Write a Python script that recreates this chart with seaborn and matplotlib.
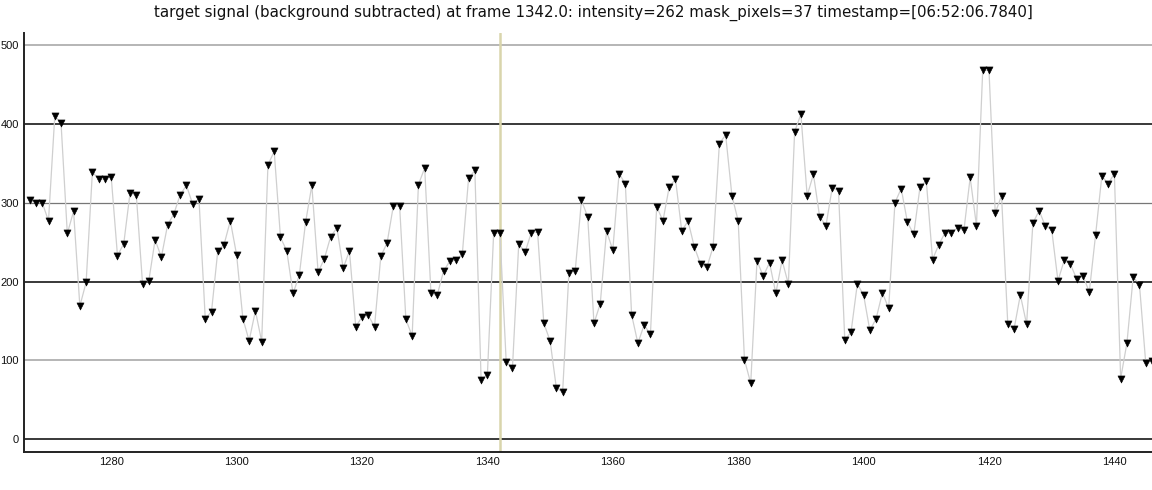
import matplotlib
matplotlib.use("Agg")
import matplotlib.pyplot as plt
import seaborn as sns
import numpy as np
import pandas as pd

# ---- data ----
first_frame = 1267
intensity = [
    303, 300, 300, 277, 410, 401, 261, 289, 169, 199,
    339, 330, 330, 333, 233, 248, 312, 310, 197, 201,
    253, 231, 272, 286, 310, 322, 298, 305, 153, 162,
    239, 247, 277, 234, 153, 125, 163, 124, 348, 365,
    256, 239, 185, 208, 275, 322, 212, 229, 257, 268,
    217, 239, 143, 155, 157, 143, 232, 249, 296, 296,
    152, 131, 323, 344, 185, 183, 213, 226, 227, 235,
    331, 341, 75, 82, 262, 262, 98, 91, 248, 237,
    262, 263, 147, 125, 65, 60, 211, 213, 303, 282,
    147, 172, 264, 240, 337, 324, 158, 122, 145, 133,
    295, 277, 320, 330, 264, 277, 244, 222, 218, 244,
    375, 386, 309, 277, 101, 71, 226, 207, 224, 185,
    227, 197, 390, 412, 309, 336, 282, 271, 319, 315,
    126, 136, 197, 183, 138, 153, 186, 166, 300, 318,
    275, 260, 320, 328, 228, 247, 262, 262, 268, 265,
    332, 271, 468, 468, 287, 309, 146, 140, 183, 146,
    274, 290, 270, 266, 201, 227, 222, 203, 207, 187,
    259, 334, 324, 337, 77, 122, 206, 196, 97, 99,
]
frames = list(range(first_frame, first_frame + len(intensity)))
current_frame = 1342
x_ticks = [1280, 1300, 1320, 1340, 1360, 1380, 1400, 1420, 1440]
y_ticks = [0, 100, 200, 300, 400, 500]
title = ("target signal (background subtracted) at frame 1342.0: intensity=262 "
         "mask_pixels=37 timestamp=[06:52:06.7840]")

df = pd.DataFrame({"frame": frames, "intensity": intensity})

# ---- figure ----
sns.set_theme(style="white")
plt.rcParams["font.family"] = ["DejaVu Sans"]

W, H = 1152, 490
fig = plt.figure(figsize=(W / 100, H / 100), dpi=100)
ax = fig.add_axes([24.3 / W, 38.3 / H, (W - 24.3) / W, (451.7 - 33) / H])

ax.set_xlim(1266.14, 1446.0)
ax.set_ylim(-15.7, 515.2)

# horizontal grid lines (alternating dark / light)
grid_styles = {0: ("#2a2a2a", 1.3), 100: ("#b0b0b0", 1.3), 200: ("#2a2a2a", 1.3),
               300: ("#777777", 0.9), 400: ("#2a2a2a", 1.3), 500: ("#b0b0b0", 1.3)}
for yv in y_ticks:
    c, lw = grid_styles[yv]
    ax.axhline(yv, color=c, lw=lw, zorder=0.5)

# current frame marker
ax.axvline(current_frame, color="#d9d5ac", lw=1.8, zorder=1)

sns.lineplot(data=df, x="frame", y="intensity", ax=ax, color="#cfcfcf",
             lw=0.9, zorder=2, legend=False)
sns.scatterplot(data=df, x="frame", y="intensity", ax=ax, marker="v",
                color="black", s=26, edgecolor="black", linewidth=0.4,
                zorder=3, legend=False)

ax.set_xticks(x_ticks)
ax.set_xticklabels([str(v) for v in x_ticks])
ax.set_yticks(y_ticks)
ax.set_yticklabels([str(v) for v in y_ticks])
ax.set_xlabel("")
ax.set_ylabel("")
ax.tick_params(axis="x", direction="in", length=4, width=0.8, color="#999999",
               labelsize=8, labelcolor="#111111", pad=4)
ax.tick_params(axis="y", direction="in", length=0, labelsize=8,
               labelcolor="#111111", pad=4)
for lab in ax.get_xticklabels() + ax.get_yticklabels():
    lab.set_family(["Liberation Sans", "DejaVu Sans"])

for side in ["top", "right"]:
    ax.spines[side].set_visible(False)
for side in ["left", "bottom"]:
    ax.spines[side].set_color("#222222")
    ax.spines[side].set_linewidth(1.4)

fig.text(593 / W, 1 - 13 / H, title, ha="center", va="center",
         fontsize=10.85, color="#111111")

fig.savefig("out.png", dpi=100, facecolor="white")
